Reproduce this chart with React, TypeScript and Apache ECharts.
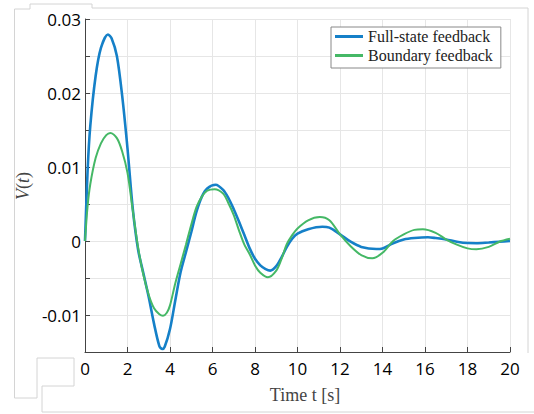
import React, { useEffect, useRef } from "react";
import * as echarts from "echarts";

const fullStateTimes = [0, 0.125, 0.25, 0.5, 0.75, 1.08, 1.25, 1.5, 1.75, 2, 2.25, 2.5, 2.75, 3, 3.25, 3.5, 3.64, 3.75, 4, 4.25, 4.5, 4.75, 5, 5.25, 5.5, 5.75, 6.15, 6.5, 6.75, 7, 7.25, 7.5, 7.75, 8, 8.25, 8.5, 8.72, 9, 9.25, 9.5, 9.75, 10, 10.5, 11.17, 11.5, 12, 12.5, 13, 13.71, 14, 14.5, 15, 15.5, 16.14, 16.5, 17, 17.5, 18, 18.42, 19, 19.5, 20];
const fullState = [0, 0.0097, 0.0156, 0.0223, 0.0261, 0.0279, 0.0274, 0.025, 0.0196, 0.0125, 0.0043, -0.0012, -0.0044, -0.0076, -0.0112, -0.0142, -0.0146, -0.0143, -0.0119, -0.008, -0.0042, -0.0015, 0.0012, 0.004, 0.006, 0.0071, 0.0076, 0.0069, 0.0058, 0.0043, 0.0026, 0.0008, -0.001, -0.0024, -0.0033, -0.0038, -0.004, -0.0034, -0.0022, -0.0008, 0.0003, 0.001, 0.0016, 0.00193, 0.0018, 0.0009, -0.0001, -0.0008, -0.00108, -0.001, -0.0003, 0.0002, 0.0004, 0.0005, 0.0004, 0.0002, -0.0001, -0.00028, -0.0003, -0.0002, -0.0001, 0.0];

const boundaryTimes = [0, 0.125, 0.25, 0.5, 0.75, 1, 1.19, 1.5, 1.75, 2, 2.25, 2.5, 2.75, 3, 3.25, 3.5, 3.67, 3.85, 4, 4.25, 4.5, 4.75, 5, 5.25, 5.5, 5.75, 6.1, 6.5, 6.75, 7, 7.25, 7.5, 7.75, 8, 8.25, 8.61, 9, 9.25, 9.5, 9.75, 10, 10.5, 11.05, 11.5, 12, 12.5, 13, 13.52, 14, 14.5, 15, 15.5, 15.9, 16.5, 17, 17.5, 18, 18.42, 19, 19.5, 20];
const boundary = [0, 0.0048, 0.0077, 0.0112, 0.0132, 0.0143, 0.0146, 0.0139, 0.0121, 0.0092, 0.0041, -0.0009, -0.0046, -0.0073, -0.0091, -0.0099, -0.0101, -0.0097, -0.0087, -0.0057, -0.0031, -0.0005, 0.0022, 0.0046, 0.006, 0.0068, 0.007, 0.0064, 0.0051, 0.0035, 0.0014, -0.0005, -0.0018, -0.0033, -0.0043, -0.0049, -0.004, -0.0024, -0.0004, 0.0008, 0.0017, 0.0028, 0.00324, 0.0028, 0.0009, -0.0007, -0.0019, -0.00234, -0.0016, 0.0, 0.0009, 0.0015, 0.00158, 0.0011, 0.0002, -0.0005, -0.001, -0.00112, -0.0008, -0.0001, 0.0003];

const seriesNames = ["Full-state feedback", "Boundary feedback"];
const xTicks = [0, 2, 4, 6, 8, 10, 12, 14, 16, 18, 20];
const yLabels = [-0.01, 0, 0.01, 0.02, 0.03];

export default function App() {
  const ref = useRef<HTMLDivElement>(null);
  useEffect(() => {
    document.body.style.margin = "0";
    if (!ref.current) return;
    const chart = echarts.init(ref.current, null, { renderer: "svg" });
    const fmtY = (v: number) => {
      const hit = yLabels.find((l) => Math.abs(l - v) < 1e-9);
      if (hit === undefined) return "";
      return hit === 0 ? "0" : String(hit);
    };
    const axisColor = "#444";
    const lineStroke = { stroke: "#d4d4d4", lineWidth: 1, fill: null };
    chart.setOption({
      animation: false,
      backgroundColor: "#fff",
      grid: { left: 85, top: 19, width: 425, height: 333, containLabel: false },
      legend: {
        orient: "vertical",
        left: 331,
        top: 27,
        padding: [1, 8, 4, 4],
        itemGap: 2,
        itemWidth: 28,
        itemHeight: 3,
        icon: "rect",
        borderColor: "#888",
        borderWidth: 1,
        backgroundColor: "#fff",
        textStyle: { fontFamily: "Liberation Serif", fontSize: 16, color: "#222", lineHeight: 17, padding: [0, 0, 0, 0] },
        data: seriesNames,
      },
      xAxis: {
        type: "value",
        min: 0,
        max: 20,
        interval: 2,
        axisLine: { onZero: false, lineStyle: { color: axisColor, width: 1 } },
        axisTick: { inside: true, length: 5, lineStyle: { color: axisColor } },
        axisLabel: { margin: 8, fontFamily: "Open Sans", fontSize: 17, color: "#000", formatter: (v: number) => (xTicks.includes(v) ? String(v) : "") },
        splitLine: { show: true, lineStyle: { color: "#e6e6e6", width: 1 } },
      },
      yAxis: {
        type: "value",
        min: -0.015,
        max: 0.03,
        interval: 0.005,
        axisLine: { show: true, lineStyle: { color: axisColor, width: 1 } },
        axisTick: { show: true, inside: true, length: 5, lineStyle: { color: axisColor } },
        axisLabel: { margin: 4, fontFamily: "Open Sans", fontSize: 17, color: "#000", formatter: fmtY },
        splitLine: { show: true, lineStyle: { color: "#e6e6e6", width: 1 } },
      },
      series: [
        {
          name: seriesNames[0],
          type: "line",
          symbol: "none",
          smooth: 0.3,
          lineStyle: { color: "#1580C8", width: 2.6 },
          itemStyle: { color: "#1580C8" },
          data: fullStateTimes.map((t, i) => [t, fullState[i]]),
          z: 2,
        },
        {
          name: seriesNames[1],
          type: "line",
          symbol: "none",
          smooth: 0.3,
          lineStyle: { color: "#45B866", width: 2 },
          itemStyle: { color: "#45B866" },
          data: boundaryTimes.map((t, i) => [t, boundary[i]]),
          z: 3,
        },
      ],
      graphic: [
        { type: "polyline", silent: true, shape: { points: [[14.5, 398], [14.5, 9], [30, 9], [30, 4], [92, 4], [92, 8], [528, 8], [528, 353]] }, style: lineStroke },
        { type: "polyline", silent: true, shape: { points: [[14.5, 398], [37, 398], [37, 358], [74, 358], [74, 386]] }, style: lineStroke },
        { type: "polyline", silent: true, shape: { points: [[74, 386], [42, 386], [42, 412], [534, 412]] }, style: lineStroke },
        {
          type: "text",
          x: 23,
          y: 186,
          rotation: Math.PI / 2,
          style: {
            text: "{i|V}({i|t})",
            fontFamily: "Liberation Serif",
            fontSize: 18,
            fill: "#444",
            align: "center",
            verticalAlign: "middle",
            rich: { i: { fontStyle: "italic", fontFamily: "Liberation Serif", fontSize: 18, fill: "#444" } },
          },
        },
        {
          type: "text",
          x: 305,
          y: 395,
          style: {
            text: "Time t [s]",
            fontFamily: "Liberation Serif",
            fontSize: 18,
            fill: "#444",
            align: "center",
            verticalAlign: "middle",
          },
        },
      ],
    });
    return () => chart.dispose();
  }, []);
  return <div ref={ref} style={{ width: 534, height: 414 }} />;
}
